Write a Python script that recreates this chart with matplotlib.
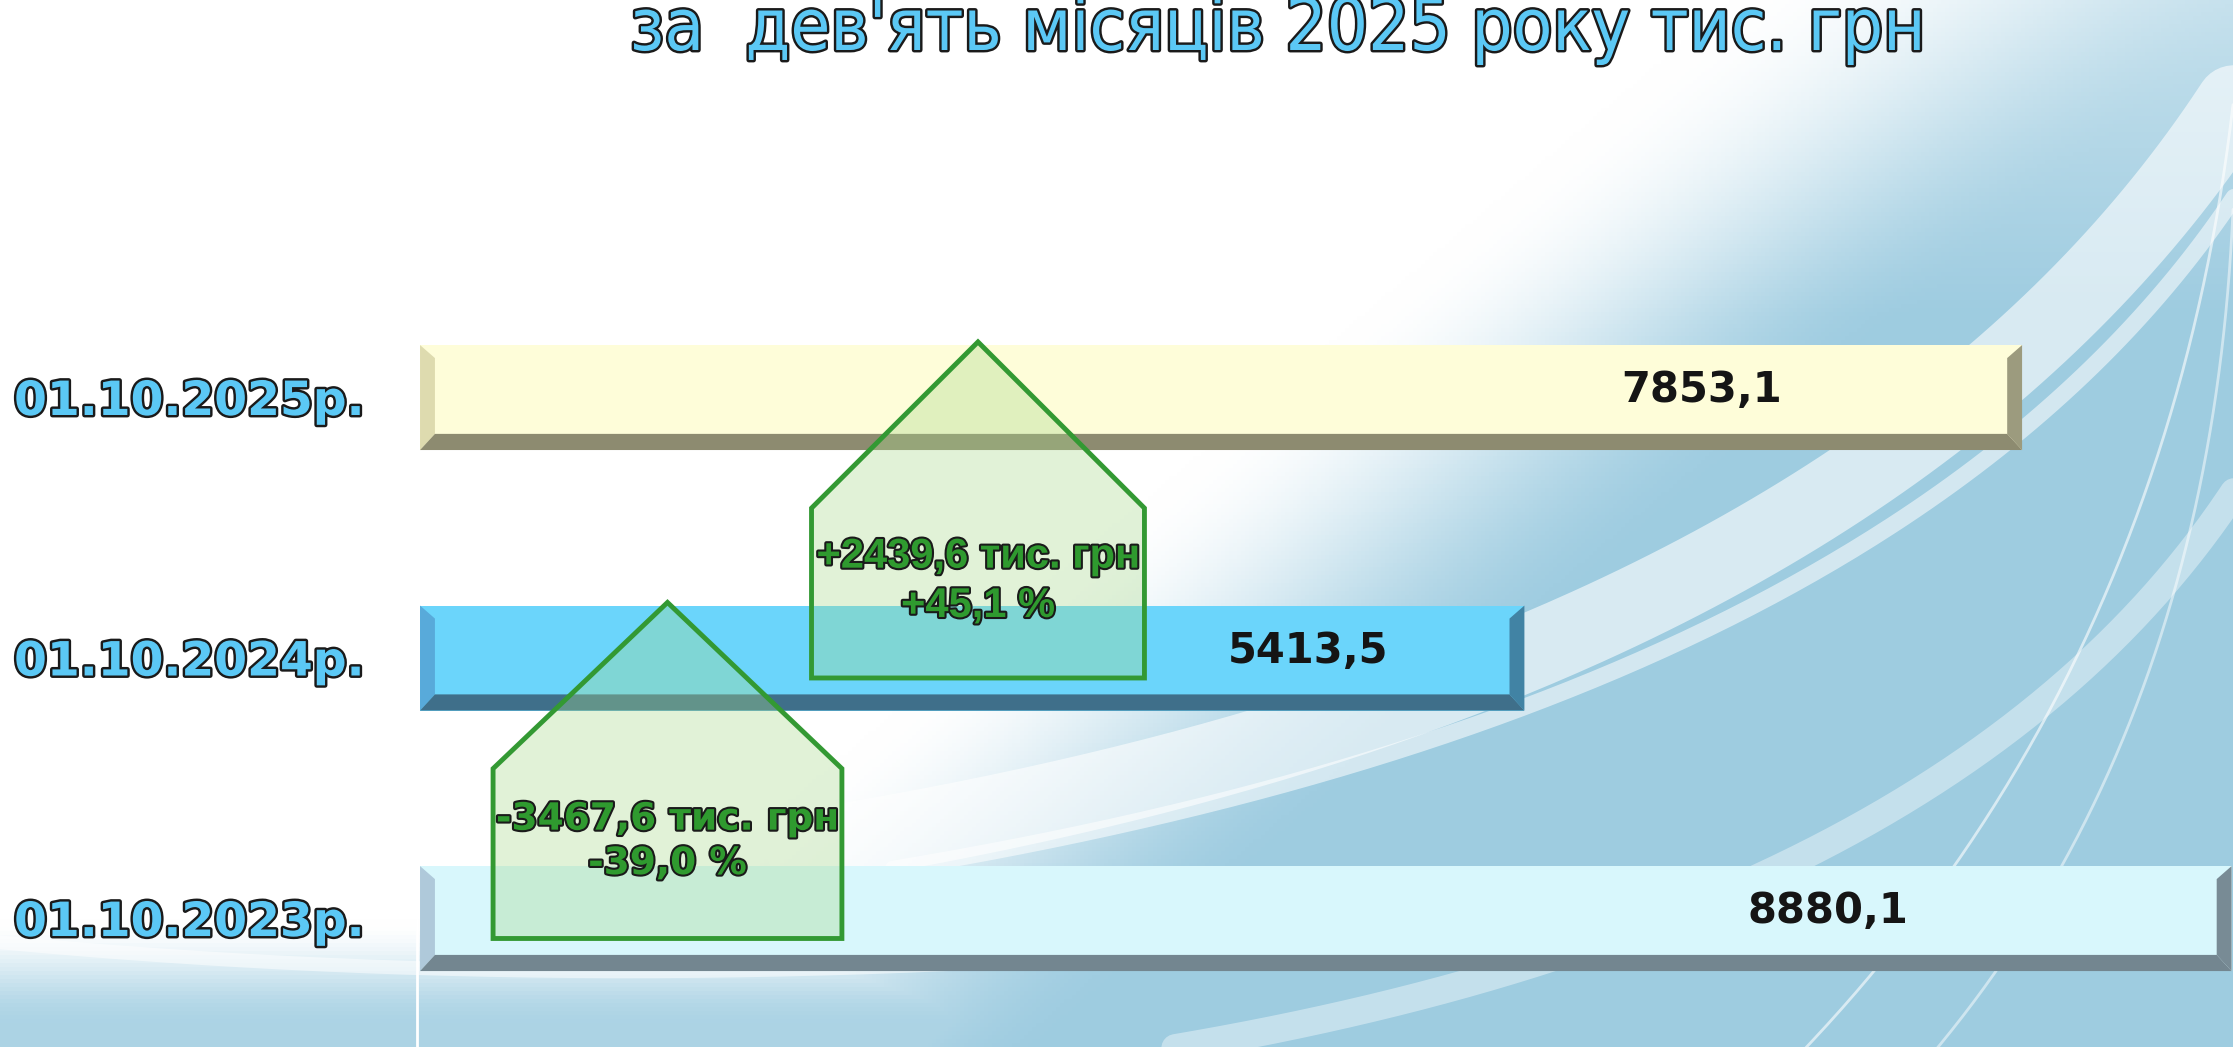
import numpy as np
import matplotlib.pyplot as plt
from matplotlib.patches import Polygon
from matplotlib import patheffects as pe

# data
categories = ['01.10.2023р.', '01.10.2024р.', '01.10.2025р.']
values = [8880.1, 5413.5, 7853.1]
value_labels = ['8880,1', '5413,5', '7853,1']
title = "за  дев'ять місяців 2025 року тис. грн"
change_labels = ['-3467,6 тис. грн\n-39,0 %', '+2439,6 тис. грн\n+45,1 %']

# bar styling: face, left bevel, right bevel, bottom bevel
face_colors = ['#D8F7FC', '#6BD5FB', '#FEFDD9']
left_colors = ['#AFC9DA', '#58AADA', '#DEDBAF']
right_colors = ['#788B95', '#4183A4', '#9C9B7E']
bottom_colors = ['#738690', '#3F6F8A', '#8D8B70']
label_frac = [0.777, 0.804, 0.80]

# arrow layout (x centre, half width in data units)
arrow_x = [1213, 2735]
arrow_hw = [855, 816]
arrow_font = [['DejaVu Sans'], ['Liberation Sans', 'DejaVu Sans']]
arrow_size = [27, 30]

fig = plt.figure(figsize=(22.33, 10.47), dpi=100)

# background gradient with soft swooshes
bg = fig.add_axes([0, 0, 1, 1], zorder=0)
bg.axis('off')
yy, xx = np.mgrid[0:1:262j, 0:1:558j]   # yy = 0 at top


def smooth(v):
    v = np.clip(v, 0, 1)
    return v * v * (3 - 2 * v)


t = smooth((xx + 0.55 * (yy - 0.5) - 0.50) / 0.25)
t = np.where(yy < 0.3, t * (0.6 + 0.4 * yy / 0.3), t)
t = np.maximum(t, smooth((yy - 0.88) / 0.10) * 0.85)
white = np.array([1.0, 1.0, 1.0])
blue = np.array([0.62, 0.80, 0.88])
img = white * (1 - t[..., None]) + blue * t[..., None]
bg.imshow(img, extent=[0, 1, 0, 1], aspect='auto', origin='upper')
s = np.linspace(0, 1, 200)
for (p0, p1, p2, lw, a) in [((0.36, 0.19), (0.86, 0.36), (1.02, 0.97), 55, 0.6),
                            ((0.40, 0.17), (0.88, 0.34), (1.02, 0.88), 12, 0.55),
                            ((0.50, -0.01), (0.90, 0.12), (1.02, 0.60), 20, 0.4),
                            ((1.00, 0.90), (0.97, 0.35), (0.80, -0.02), 2, 0.6),
                            ((1.00, 0.80), (0.99, 0.30), (0.86, -0.02), 2, 0.5),
                            ((0.0, 0.10), (0.30, 0.04), (0.62, 0.11), 10, 0.5)]:
    bx = (1 - s) ** 2 * p0[0] + 2 * (1 - s) * s * p1[0] + s ** 2 * p2[0]
    by = (1 - s) ** 2 * p0[1] + 2 * (1 - s) * s * p1[1] + s ** 2 * p2[1]
    bg.plot(bx, by, color='white', lw=lw, alpha=a, solid_capstyle='round')
bg.set_xlim(0, 1)
bg.set_ylim(0, 1)

ax = fig.add_axes([0, 0, 1, 1], zorder=1)
ax.patch.set_alpha(0)
ax.set_xlim(-2059, 8887)
ax.set_ylim(-0.493, 3.526)
ax.axis('off')
ax.axvline(-15, color='white', lw=2, zorder=1)

ypos = np.arange(len(categories))
bar_h = 0.403
dx = 73
top_cut = 0.05
strip = 0.062

ax.barh(ypos, values, height=bar_h, left=0, color=face_colors, zorder=2)
for i, (y, v) in enumerate(zip(ypos, values)):
    top, bot = y + bar_h / 2, y - bar_h / 2
    ax.add_patch(Polygon([(0, top), (dx, top - top_cut), (dx, bot + strip), (0, bot)],
                         closed=True, color=left_colors[i], lw=0, zorder=3))
    ax.add_patch(Polygon([(v, top), (v, bot), (v - dx, bot + strip), (v - dx, top - top_cut)],
                         closed=True, color=right_colors[i], lw=0, zorder=3))
    ax.add_patch(Polygon([(0, bot), (v, bot), (v - dx, bot + strip), (dx, bot + strip)],
                         closed=True, color=bottom_colors[i], lw=0, zorder=3))
    ax.text(v * label_frac[i], y - 0.018, value_labels[i], ha='center', va='baseline',
            fontsize=30, fontweight='bold', color='#151515', family='DejaVu Sans', zorder=6)
    ax.text(0.0063, y - 0.067, categories[i], transform=ax.get_yaxis_transform(),
            ha='left', va='baseline', fontsize=34, fontweight='bold', color='#5BC8F5',
            family='DejaVu Sans', zorder=6,
            path_effects=[pe.withStroke(linewidth=3.5, foreground='#1A1A1A')])

# change arrows (pentagon shapes)
for i, lab in enumerate(change_labels):
    tip = ypos[i + 1] + bar_h / 2 + 0.012
    shoulder = tip - 0.638
    base = tip - 1.29
    cx, hw = arrow_x[i], arrow_hw[i]
    ax.add_patch(Polygon([(cx, tip), (cx + hw, shoulder), (cx + hw, base),
                          (cx - hw, base), (cx - hw, shoulder)], closed=True,
                         facecolor=(0.66, 0.85, 0.55, 0.34), edgecolor='#339933',
                         lw=3.5, joinstyle='miter', zorder=4))
    ax.text(cx, (shoulder + base) / 2 + 0.045, lab, ha='center', va='center',
            fontsize=arrow_size[i], fontweight='bold', color='#2F9A2F',
            family=arrow_font[i], linespacing=1.3, zorder=7,
            path_effects=[pe.withStroke(linewidth=3, foreground='#1A1A1A')])

fig.text(0.5723, 1 - 50 / 1047, title, ha='center', va='baseline', fontsize=52,
         color='#5BC8F5', family=['DejaVu Sans'], fontstretch='condensed',
         path_effects=[pe.withStroke(linewidth=3.5, foreground='#1A1A1A')], zorder=10)

fig.savefig('out.png', dpi=100)
